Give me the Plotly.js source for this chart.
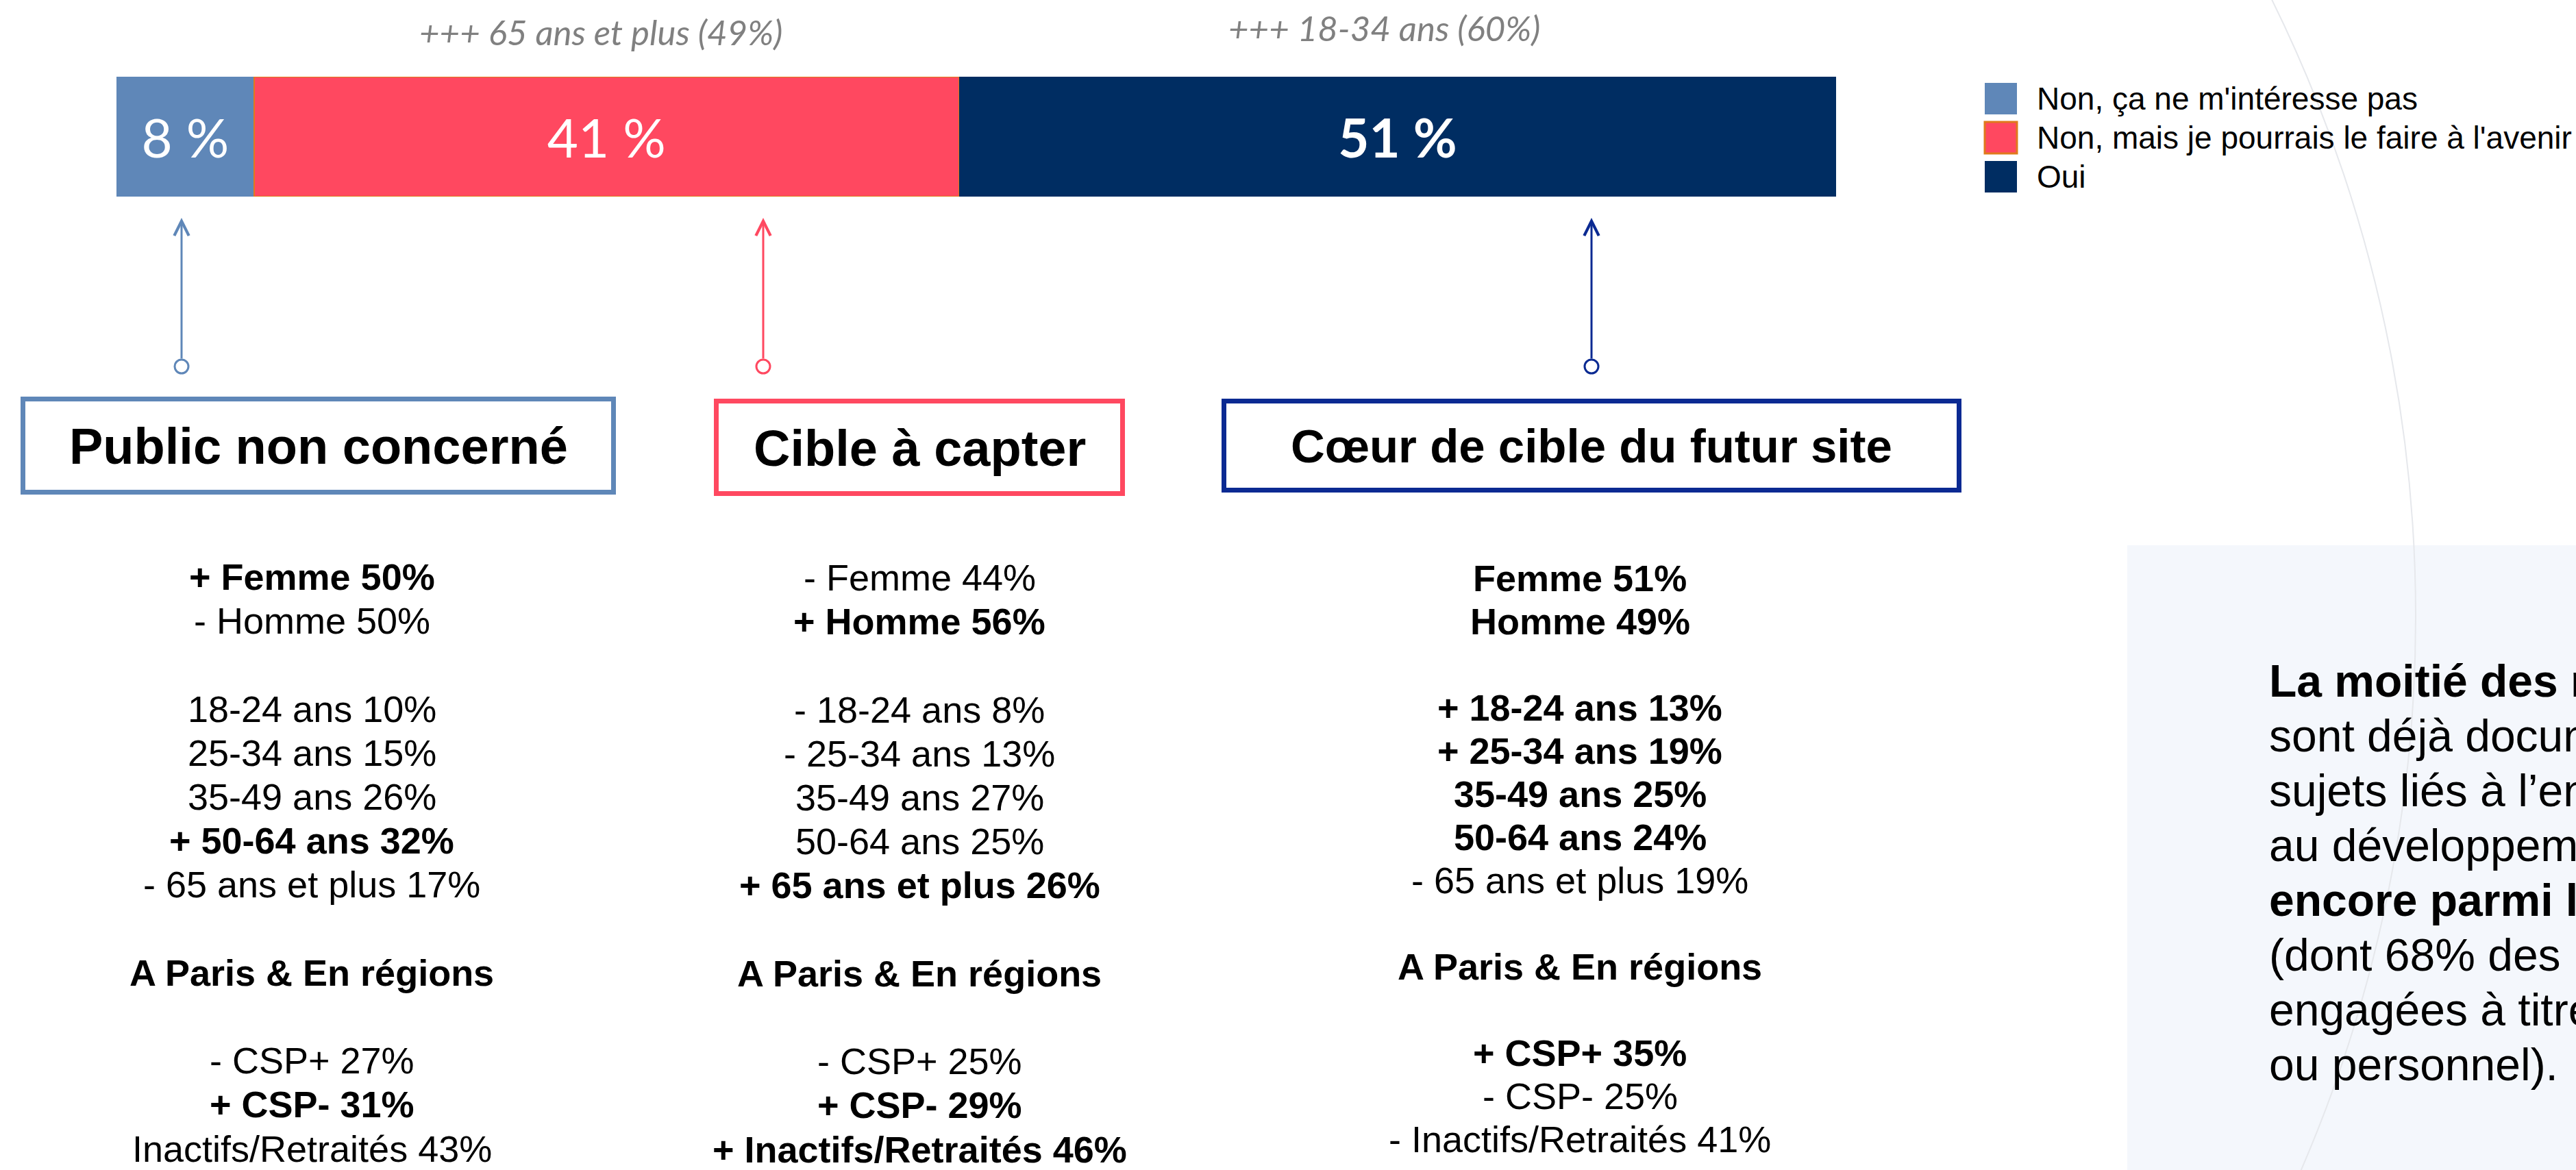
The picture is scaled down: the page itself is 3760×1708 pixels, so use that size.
<!DOCTYPE html>
<html><head><meta charset="utf-8">
<script src="https://cdn.plot.ly/plotly-3.0.1.min.js"></script>
<style>html,body{margin:0;padding:0;background:#fff;overflow:hidden}</style>
</head><body><div id="chart" style="width:3760px;height:1708px"></div>
<script>
// ---------------- DATA ----------------
const categories = ['Total'];
const seriesNames = ["Non, ça ne m'intéresse pas", "Non, mais je pourrais le faire à l'avenir", "Oui"];
const nonInteresse = [8];
const nonAvenir = [41];
const oui = [51];
const topNotes = ['+++ 65 ans et plus (49%)', '+++ 18-34 ans (60%)'];
const groupTitles = ['Public non concerné', 'Cible à capter', 'Cœur de cible du futur site'];
const profilePublic = ['<b>+ Femme 50%</b>', '- Homme 50%', '', '18-24 ans 10%', '25-34 ans 15%', '35-49 ans 26%',
  '<b>+ 50-64 ans 32%</b>', '- 65 ans et plus 17%', '', '<b>A Paris &amp; En régions</b>', '',
  '- CSP+ 27%', '<b>+ CSP- 31%</b>', 'Inactifs/Retraités 43%'];
const profileCible = ['- Femme 44%', '<b>+ Homme 56%</b>', '', '- 18-24 ans 8%', '- 25-34 ans 13%', '35-49 ans 27%',
  '50-64 ans 25%', '<b>+ 65 ans et plus 26%</b>', '', '<b>A Paris &amp; En régions</b>', '',
  '- CSP+ 25%', '<b>+ CSP- 29%</b>', '<b>+ Inactifs/Retraités 46%</b>'];
const profileCoeur = ['<b>Femme 51%</b>', '<b>Homme 49%</b>', '', '<b>+ 18-24 ans 13%</b>', '<b>+ 25-34 ans 19%</b>', '<b>35-49 ans 25%</b>',
  '<b>50-64 ans 24%</b>', '- 65 ans et plus 19%', '', '<b>A Paris &amp; En régions</b>', '',
  '<b>+ CSP+ 35%</b>', '- CSP- 25%', '- Inactifs/Retraités 41%'];
const conclusionLines = ['<b>La moitié des répondants</b>', 'sont déjà documentés', 'sujets liés à l’environnement',
  'au développement', '<b>encore parmi les</b>', '(dont 68% des', 'engagées à titre', 'ou personnel).'];

// ---------------- STYLE / LAYOUT ----------------
const W = 3760, H = 1708;
const px = x => x / W;
const py = y => 1 - y / H;
const barColors = ['#5F87B8', '#FF4860', '#002D62'];
const groupColors = ['#5F87B8', '#FF4860', '#0B2A92'];
const HELV = "'Liberation Sans', Arial, Helvetica, sans-serif";
const GEO = "Lato, 'Open Sans', sans-serif";

const seriesValues = [nonInteresse, nonAvenir, oui];
const traces = seriesValues.map((vals, i) => ({
  type: 'bar', orientation: 'h', name: seriesNames[i],
  y: categories, x: vals,
  marker: { color: barColors[i], line: i === 1 ? { color: '#E07A1C', width: 2 } : { width: 0 } },
  texttemplate: i === 2 ? '<b>%{x} %</b>' : '%{x} %',
  textposition: 'inside', insidetextanchor: 'middle', textangle: 0,
  textfont: { family: GEO, size: 78, color: '#ffffff' },
  hoverinfo: 'skip', showlegend: false
}));

const shapes = [];
const annotations = [];

// right panel background
shapes.push({ type: 'rect', xref: 'paper', yref: 'paper', layer: 'below',
  x0: px(3105), x1: px(W + 10), y0: py(796), y1: py(H + 10), fillcolor: '#F4F7FC', line: { width: 0 } });
// decorative arc
const cx = 1490, cy = 900, R = 2036;
shapes.push({ type: 'circle', xref: 'paper', yref: 'paper', layer: 'below',
  x0: px(cx - R), x1: px(cx + R), y0: py(cy + R), y1: py(cy - R),
  line: { color: '#E6E8EC', width: 2 }, fillcolor: 'rgba(0,0,0,0)' });

// top notes
const notePos = [[877, 47], [2020, 41]];
topNotes.forEach((t, i) => annotations.push({ xref: 'paper', yref: 'paper', x: px(notePos[i][0]), y: py(notePos[i][1]),
  text: '<i>' + t + '</i>', showarrow: false, xanchor: 'center', yanchor: 'middle',
  font: { family: GEO, size: 51, color: '#808080' } }));

// legend (manual, large swatches)
const legRows = [144, 201, 258];
seriesNames.forEach((n, i) => {
  shapes.push({ type: 'rect', xref: 'paper', yref: 'paper', x0: px(2897), x1: px(2944),
    y0: py(legRows[i] + 23), y1: py(legRows[i] - 23), fillcolor: barColors[i],
    line: i === 1 ? { color: '#E07A1C', width: 3 } : { width: 0 } });
  annotations.push({ xref: 'paper', yref: 'paper', x: px(2971), y: py(legRows[i]), text: n,
    showarrow: false, xanchor: 'left', yanchor: 'middle', font: { family: HELV, size: 46, color: '#000' } });
});

// arrows + tail circles
const arrowX = [265, 1114, 2323];
const tipY = 318, tailY = 535, rC = 10;
arrowX.forEach((x, i) => {
  annotations.push({ xref: 'paper', yref: 'paper', x: px(x), y: py(tipY), ax: 0, ay: tailY - rC - tipY,
    axref: 'pixel', ayref: 'pixel', text: '', showarrow: true, arrowhead: 5, arrowsize: 1.4,
    arrowwidth: 3, arrowcolor: groupColors[i], standoff: 0 });
  shapes.push({ type: 'circle', xref: 'paper', yref: 'paper', x0: px(x - rC), x1: px(x + rC),
    y0: py(tailY + rC), y1: py(tailY - rC), fillcolor: '#ffffff', line: { color: groupColors[i], width: 3 } });
});

// group boxes
const boxes = [[30, 899, 579, 722], [1042, 1642, 582, 724], [1783, 2863, 582, 719]];
const boxFont = [74, 74, 69];
boxes.forEach((b, i) => {
  const lw = 7, h = lw / 2;
  shapes.push({ type: 'rect', xref: 'paper', yref: 'paper', x0: px(b[0] + h), x1: px(b[1] - h),
    y0: py(b[3] - h), y1: py(b[2] + h), fillcolor: '#ffffff', line: { color: groupColors[i], width: lw } });
  annotations.push({ xref: 'paper', yref: 'paper', x: px((b[0] + b[1]) / 2), y: py((b[2] + b[3]) / 2 + 1),
    text: '<b>' + groupTitles[i] + '</b>', showarrow: false, xanchor: 'center', yanchor: 'middle',
    font: { family: HELV, size: boxFont[i], color: '#000' } });
});

// profile columns
const cols = [
  { lines: profilePublic, x: 455, y0: 842, step: 64.2 },
  { lines: profileCible, x: 1342, y0: 843, step: 64.2 },
  { lines: profileCoeur, x: 2306, y0: 844, step: 63.0 }
];
cols.forEach(c => c.lines.forEach((t, j) => {
  if (!t) return;
  annotations.push({ xref: 'paper', yref: 'paper', x: px(c.x), y: py(c.y0 + j * c.step), text: t,
    showarrow: false, xanchor: 'center', yanchor: 'middle', font: { family: HELV, size: 54, color: '#000' } });
}));

// conclusion text (panel)
conclusionLines.forEach((t, j) => annotations.push({ xref: 'paper', yref: 'paper', x: px(3310), y: py(994 + j * 80),
  text: t, showarrow: false, xanchor: 'left', yanchor: 'middle', font: { family: HELV, size: 66, color: '#000' } }));

const layout = {
  width: W, height: H, margin: { l: 0, r: 0, t: 0, b: 0, pad: 0 },
  paper_bgcolor: '#ffffff', plot_bgcolor: 'rgba(0,0,0,0)',
  barmode: 'stack', bargap: 0, showlegend: false, hovermode: false,
  xaxis: { domain: [px(170), px(2680)], range: [0, 100], visible: false, fixedrange: true },
  yaxis: { domain: [py(287), py(112)], type: 'category', range: [-0.5, 0.5], visible: false, fixedrange: true },
  shapes: shapes, annotations: annotations
};
Plotly.newPlot('chart', traces, layout, { displayModeBar: false, staticPlot: true });
</script></body></html>
